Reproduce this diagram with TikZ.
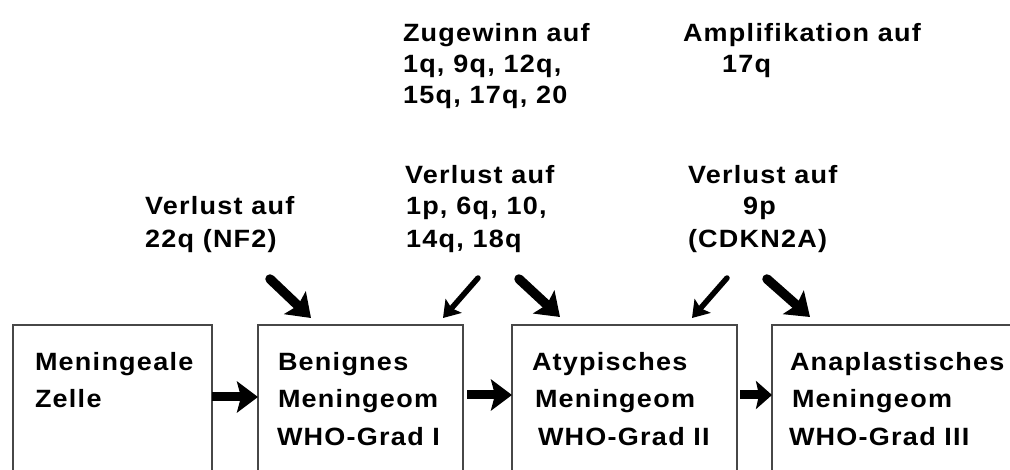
\documentclass[tikz,border=0pt]{standalone}
\usepackage{fontspec}
\newfontfamily\lblfont{Liberation Sans}[FakeStretch=1.08,LetterSpace=5.0]
\usetikzlibrary{arrows.meta,calc}

\tikzset{
  stage/.style={draw=black!72, line width=1.6pt, fill=none, inner sep=0pt, outer sep=0pt},
  lbl/.style={anchor=base west, inner sep=0pt, outer sep=0pt,
    font=\lblfont\bfseries\fontsize{25pt}{30pt}\selectfont, text=black},
  flow/.style={line width=9pt, -{Stealth[length=21pt 0 0,width=31pt 0 0,inset=4pt]}},
  hitthick/.style={line width=9.5pt, line cap=round, -{Stealth[length=22pt 0 0,width=31pt 0 0,inset=4pt]}},
  hitthin/.style={line width=5.5pt, line cap=round, -{Stealth[length=16pt 0 0,width=21pt 0 0,inset=3pt]}},
}

\begin{document}
\begin{tikzpicture}[x=1pt,y=1pt]
\useasboundingbox (0,0) rectangle (1010,469);

% tumour stages (boxes run past the lower edge)
\node[stage, minimum width=199pt, minimum height=164pt] (box1) at (112.5,62) {};
\node[stage, minimum width=205pt, minimum height=164pt] (box2) at (360.5,62) {};
\node[stage, minimum width=225pt, minimum height=164pt] (box3) at (624.5,62) {};
\node[stage, minimum width=278pt, minimum height=164pt] (box4) at (911,62) {};

% box texts
\node[lbl] (b1a) at (35,98) {Meningeale};
\node[lbl] (b1b) at (35,61) {Zelle};
\node[lbl] (b2a) at (278,98) {Benignes};
\node[lbl] (b2b) at (278,61) {Meningeom};
\node[lbl] (b2c) at (277,24) {WHO-Grad I};
\node[lbl] (b3a) at (532,98) {Atypisches};
\node[lbl] (b3b) at (535,61) {Meningeom};
\node[lbl] (b3c) at (538,24) {WHO-Grad II};
\node[lbl] (b4a) at (790,98) {Anaplastisches};
\node[lbl] (b4b) at (792,61) {Meningeom};
\node[lbl] (b4c) at (789,24) {WHO-Grad III};

% genetic changes
\node[lbl] (z1) at (403,427) {Zugewinn auf};
\node[lbl] (z2) at (403,396) {1q, 9q, 12q,};
\node[lbl] (z3) at (403,365) {15q, 17q, 20};
\node[lbl] (am1) at (683,427) {Amplifikation auf};
\node[lbl] (am2) at (722,396) {17q};
\node[lbl] (vl1) at (145,254) {Verlust auf};
\node[lbl] (vl2) at (145,221) {22q (NF2)};
\node[lbl] (vm1) at (405,285) {Verlust auf};
\node[lbl] (vm2) at (406,254) {1p, 6q, 10,};
\node[lbl] (vm3) at (406,221) {14q, 18q};
\node[lbl] (vr1) at (688,285) {Verlust auf};
\node[lbl] (vr2) at (743,254) {9p};
\node[lbl] (vr3) at (688,221) {(CDKN2A)};

% progression arrows
\draw[flow] ([yshift=10pt]box1.east) -- ([yshift=10pt]box2.west);
\draw[flow] ([xshift=4pt,yshift=12pt]box2.east) -- ([yshift=12pt]box3.west);
\draw[flow, -{Stealth[length=16pt 0 0,width=28pt 0 0,inset=3pt]}] ([xshift=3pt,yshift=12pt]box3.east) -- ([yshift=12pt]box4.west);

% incoming changes
\coordinate (d1s) at ($(box2.north west)+(12,46)$);
\coordinate (d2s) at ($(box2.north east)+(15,47)$);
\coordinate (d3s) at ($(box3.north west)+(7,46)$);
\coordinate (d4s) at ($(box3.north east)+(-10,47)$);
\coordinate (d5s) at ($(box4.north west)+(-5,46)$);
\draw[hitthick] (d1s) -- ($(box2.north west)+(53,7)$);
\draw[hitthin]  (d2s) -- ($(box2.north east)+(-20,7)$);
\draw[hitthick] (d3s) -- ($(box3.north west)+(48,8)$);
\draw[hitthin]  (d4s) -- ($(box3.north east)+(-45,7)$);
\draw[hitthick] (d5s) -- ($(box4.north west)+(38,8)$);
\end{tikzpicture}
\end{document}
